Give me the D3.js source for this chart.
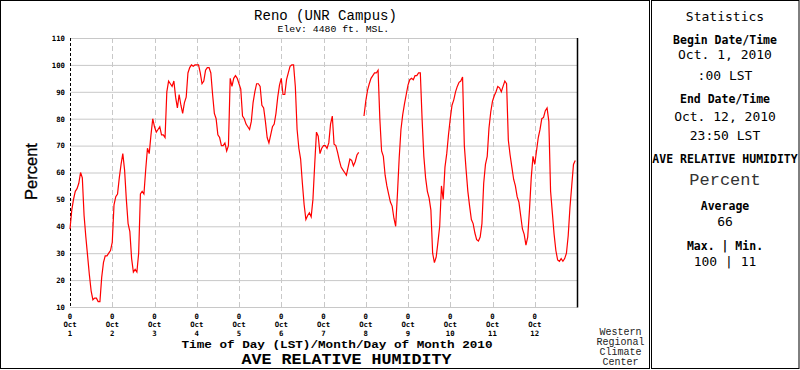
<!DOCTYPE html>
<html><head><meta charset="utf-8">
<script src="https://cdn.jsdelivr.net/npm/d3@7"></script>
<style>body{margin:0;background:#fff}svg{display:block}</style>
</head><body><svg id="c" width="800" height="370"></svg>
<script>
// ---- data (hourly average relative humidity, %) ----
const dayLabels = ["1","2","3","4","5","6","7","8","9","10","11","12"];
const yTicks = [10,20,30,40,50,60,70,80,90,100,110];
const rhOct01 = [39,46,50,53,54,56,60,58,44,36,29,22,16,12.7,13.3,13.3,12,12,21,26.5,29,29,30,31];
const rhOct02 = [34,48,51,52,58,63,67,61,50,41,38,28,23,24,23,30,52,53,52,61,69,67,74,80];
const rhOct03 = [77,75,76,77,74,74,73,90,94,93,92,94,88,84,89,85,82,86,88,97,99,100,99.5,100];
const rhOct04 = [100,100,97,93,94,98,99,99,97,89,82,80,74,73,70,70,71,68,70,95,92,95,96,95];
const rhOct05 = [93,91,81,80,78,77,76,79,86,90,93,93,92,85,84,79,73,71,74,77,78,82,88,92.5];
const rhOct06 = [95,89,89,94.5,97,99.5,100,100,92,76,69,65,56,48,42.5,44,45,43.5,50,63,75,73.5,67,69];
const rhOct07 = [70,70,69,71,78,81,70.5,70,67.5,64.5,62,61,60,59,62,65,64.5,62.5,64,66.5,67.5,null,null,81];
const rhOct08 = [86.5,90.5,93,95,96,97,97,98,80,68,66,59,55,52,49,47.5,43,40,52,65.5,76,81.5,85.5,89];
const rhOct09 = [92.5,94.5,95,94.5,96,96,97,97,80,66,58,53,50.5,46,30,26.5,28.5,34,40,55,50,62,67,74];
const rhOct10 = [80,85,87,90,92,93.5,94,95.5,70,61,53,47.5,42.5,41,37.5,35,34.5,36,41,56,63,66,76.5,82.5];
const rhOct11 = [86.5,88.5,90,92,91.5,90,92,94,93,72,66.5,62,57.5,55,51,49,44,39,37,33,36,46,58,66];
const rhOct12 = [63,68,73,76,80,80.5,83,84,79,53,45,37,31,27.5,27,28,27,28,30,36.5,47,55,63,64.5];

const statsLines = [
  {t:"Statistics", cls:"st"},
  {t:"Begin Date/Time", cls:"sb"},
  {t:"Oct. 1, 2010", cls:"sn"},
  {t:":00 LST", cls:"sn"},
  {t:"End Date/Time", cls:"sb"},
  {t:"Oct. 12, 2010", cls:"sn"},
  {t:"23:50 LST", cls:"sn"},
  {t:"AVE RELATIVE HUMIDITY", cls:"sb"},
  {t:"Percent", cls:"sp"},
  {t:"Average", cls:"sb"},
  {t:"66", cls:"sn"},
  {t:"Max. | Min.", cls:"sb"},
  {t:"100 | 11", cls:"sn"}
];
const statsY = [21,44,59,80,103,121,140,163,185,210,226,250,266];
const wrcc = ["Western","Regional","Climate","Center"];

// ---- build ----
const allDays = [rhOct01,rhOct02,rhOct03,rhOct04,rhOct05,rhOct06,rhOct07,rhOct08,rhOct09,rhOct10,rhOct11,rhOct12];
const series = allDays.flat().map((v,i)=>({t:new Date(Date.UTC(2010,9,1,i)), v:v}));
const dayDates = dayLabels.map((d,i)=>new Date(Date.UTC(2010,9,1+i)));

const svg = d3.select("#c");
const L=70,R=577,T=38,B=307;
const x = d3.scaleUtc().domain([new Date(Date.UTC(2010,9,1)), new Date(Date.UTC(2010,9,13))]).range([L,R]);
const y = d3.scaleLinear().domain([10,110]).range([B,T]);

// frames
svg.append("rect").attr("x",0.5).attr("y",0.5).attr("width",649).attr("height",368).attr("fill","none").attr("stroke","#000");
svg.append("rect").attr("x",651.5).attr("y",0.5).attr("width",147.5).attr("height",368).attr("fill","none").attr("stroke","#000");

// horizontal grid
svg.append("g").selectAll("line").data(yTicks).join("line")
  .attr("x1",L).attr("x2",R).attr("y1",d=>y(d)+0.5).attr("y2",d=>y(d)+0.5)
  .attr("stroke","#c8c8c8").attr("stroke-width",1);
// vertical dashed grid
svg.append("g").selectAll("line").data(dayDates.slice(1)).join("line")
  .attr("x1",d=>Math.round(x(d))+0.5).attr("x2",d=>Math.round(x(d))+0.5).attr("y1",T).attr("y2",B)
  .attr("stroke","#c8c8c8").attr("stroke-dasharray","5,3");
// left axis dashed black
svg.append("line").attr("x1",L+0.5).attr("x2",L+0.5).attr("y1",T).attr("y2",B)
  .attr("stroke","#000").attr("stroke-dasharray","3,2");
// right border solid black
svg.append("line").attr("x1",R+0.5).attr("x2",R+0.5).attr("y1",T).attr("y2",B+0.5)
  .attr("stroke","#000").attr("stroke-width",1.5);

// y tick labels
svg.append("g").selectAll("text").data(yTicks).join("text")
  .attr("x",L-5).attr("y",d=>y(d)+2.8).attr("text-anchor","end")
  .attr("font-family","DejaVu Sans Mono").attr("font-weight","bold").attr("font-size","7.3px")
  .text(d=>d);

// x tick labels
const xl = svg.append("g").selectAll("g").data(dayDates).join("g")
  .attr("transform",d=>`translate(${x(d)},0)`)
  .attr("font-family","DejaVu Sans Mono").attr("font-weight","bold").attr("font-size","7.3px").attr("text-anchor","middle");
xl.append("text").attr("y",318.5).text("0");
xl.append("text").attr("y",327).text("Oct");
xl.append("text").attr("y",335.5).text((d,i)=>dayLabels[i]);

// data line
const line = d3.line().defined(d=>d.v!=null).x(d=>x(d.t)).y(d=>y(d.v));
svg.append("path").datum(series).attr("d",line).attr("fill","none").attr("stroke","#ff0000").attr("stroke-width",1.2);

// titles
svg.append("text").attr("x",325.5).attr("y",20).attr("text-anchor","middle")
  .attr("font-family","Liberation Mono").attr("font-size","14px").text("Reno (UNR Campus)");
svg.append("text").attr("x",277.5).attr("y",31.5)
  .attr("font-family","Liberation Mono").attr("font-size","9.8px").text("Elev: 4480 ft. MSL.");
svg.append("text").attr("x",181.5).attr("y",348).attr("textLength",311).attr("lengthAdjust","spacingAndGlyphs")
  .attr("font-family","Liberation Mono").attr("font-weight","bold").attr("font-size","11.5px").text("Time of Day (LST)/Month/Day of Month 2010");
svg.append("text").attr("x",241.5).attr("y",363.5).attr("textLength",210).attr("lengthAdjust","spacingAndGlyphs")
  .attr("font-family","Liberation Mono").attr("font-weight","bold").attr("font-size","14px").text("AVE RELATIVE HUMIDITY");
svg.append("text").attr("transform","translate(36.5,171.5) rotate(-90)").attr("text-anchor","middle")
  .attr("font-family","Liberation Sans").attr("font-size","16.5px").attr("stroke","#000").attr("stroke-width",0.3).text("Percent");

svg.append("g").selectAll("text").data(wrcc).join("text")
  .attr("x",620.5).attr("y",(d,i)=>335+i*10).attr("text-anchor","middle")
  .attr("font-family","Liberation Mono").attr("font-size","10px").attr("fill","#222").text(d=>d);

// stats panel
const fonts = {
  st:{f:"DejaVu Sans Mono",s:"13px",w:"normal",c:"#000"},
  sb:{f:"DejaVu Sans Mono",s:"11.5px",w:"bold",c:"#000"},
  sn:{f:"DejaVu Sans Mono",s:"13px",w:"normal",c:"#000"},
  sp:{f:"Liberation Mono",s:"17px",w:"normal",c:"#333"}
};
svg.append("g").selectAll("text").data(statsLines).join("text")
  .attr("x",725).attr("y",(d,i)=>statsY[i]).attr("text-anchor","middle")
  .attr("font-family",d=>fonts[d.cls].f).attr("font-size",d=>fonts[d.cls].s)
  .attr("font-weight",d=>fonts[d.cls].w).attr("fill",d=>fonts[d.cls].c).text(d=>d.t);
</script></body></html>
